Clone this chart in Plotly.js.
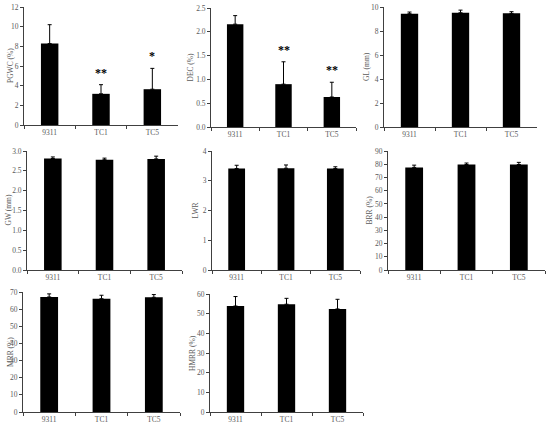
<!DOCTYPE html>
<html><head><meta charset="utf-8">
<script src="https://cdn.plot.ly/plotly-3.0.1.min.js"></script>
<style>html,body{margin:0;padding:0;background:#fff}#chart{width:550px;height:427px}</style>
</head><body><div id="chart"></div>
<script>
const categories = ["9311", "TC1", "TC5"];
const traitNames = ["PGWC (%)", "DEC (%)", "GL (mm)", "GW (mm)", "LWR", "BRR (%)", "MRR (%)", "HMRR (%)"];
const PGWC = [8.28, 3.17, 3.64];
const PGWC_err = [1.92, 0.93, 2.12];
const DEC = [2.16, 0.90, 0.63];
const DEC_err = [0.18, 0.47, 0.31];
const GL = [9.44, 9.52, 9.47];
const GL_err = [0.14, 0.22, 0.14];
const GW = [2.81, 2.78, 2.80];
const GW_err = [0.04, 0.04, 0.07];
const LWR = [3.41, 3.42, 3.41];
const LWR_err = [0.11, 0.11, 0.06];
const BRR = [77.6, 79.8, 79.8];
const BRR_err = [1.7, 1.1, 1.6];
const MRR = [67.1, 66.1, 66.9];
const MRR_err = [1.8, 2.0, 1.6];
const HMRR = [53.9, 54.8, 52.4];
const HMRR_err = [4.8, 3.0, 4.9];
const sigPGWC = ["", "**", "*"];
const sigDEC = ["", "**", "**"];

const values = [PGWC, DEC, GL, GW, LWR, BRR, MRR, HMRR];
const errors = [PGWC_err, DEC_err, GL_err, GW_err, LWR_err, BRR_err, MRR_err, HMRR_err];
const sigs = [sigPGWC, sigDEC, null, null, null, null, null, null];
const yRanges = [[0,12],[0,2.5],[0,10],[0,3],[0,4],[0,90],[0,70],[0,60]];
const yDticks = [2,0.5,2,0.5,1,10,10,10];
const yFormats = ["d",".1f","d",".1f","d","d","d","d"];

// layout: panel pixel boxes [x0,x1,y0,y1] (top-based) and y-title offsets
const W = 550, H = 427;
const boxes = [
  [24,178,7,125],[211,356,8,127],[384,537,7,127],
  [27,182,151,270],[212,360,151,270],[388,545,151,270],
  [23,180,292,412],[210,363,294,412]
];
const titleOffsets = [13,21,17,19,17,19,13,18];

const font = "Liberation Serif";
const txtColor = "#595959";
const lineColor = "#404040";
const data = [];
const layout = {
  width: W, height: H, margin: {l:0,r:0,t:0,b:0},
  paper_bgcolor: "#fff", plot_bgcolor: "#fff",
  showlegend: false, bargap: 0.66,
  font: {family: font, size: 7, color: txtColor},
  annotations: []
};
for (let i = 0; i < 8; i++) {
  const n = i === 0 ? "" : String(i+1);
  const b = boxes[i];
  data.push({
    type: "bar", x: categories, y: values[i],
    xaxis: "x" + n, yaxis: "y" + n,
    marker: {color: "#000", line: {width: 0}},
    error_y: {type: "data", symmetric: false, array: errors[i], arrayminus: [0,0,0],
              color: "#000", thickness: 1, width: 2}
  });
  layout["xaxis" + n] = {
    domain: [b[0]/W, b[1]/W], anchor: "y" + n,
    type: "category", showline: true, linecolor: lineColor, linewidth: 1,
    ticks: "outside", ticklen: 3, tickcolor: lineColor, tickson: "boundaries",
    showgrid: false, zeroline: false, fixedrange: true,
    tickfont: {family: font, size: 7.5, color: txtColor}
  };
  layout["yaxis" + n] = {
    domain: [1 - b[3]/H, 1 - b[2]/H], anchor: "x" + n,
    range: yRanges[i], dtick: yDticks[i], tick0: 0, tickformat: yFormats[i],
    showline: true, linecolor: lineColor, linewidth: 1,
    ticks: "outside", ticklen: 3, tickcolor: lineColor,
    showgrid: false, zeroline: false, fixedrange: true,
    tickfont: {family: font, size: 7.5, color: txtColor}
  };
  layout.annotations.push({
    xref: "paper", yref: "paper", x: (b[0] - titleOffsets[i]) / W,
    y: 1 - (b[2] + b[3]) / 2 / H, text: traitNames[i], textangle: -90,
    showarrow: false, xanchor: "center", yanchor: "middle",
    font: {family: font, size: 7.5, color: txtColor}
  });
  if (sigs[i]) {
    for (let j = 0; j < 3; j++) {
      if (!sigs[i][j]) continue;
      layout.annotations.push({
        xref: "x" + n, yref: "y" + n, x: categories[j], y: values[i][j] + errors[i][j],
        text: "<b>" + sigs[i][j] + "</b>", showarrow: false, yanchor: "bottom", yshift: 3,
        font: {family: "Liberation Serif", size: 12, color: "#000000"}
      });
    }
  }
}
Plotly.newPlot("chart", data, layout, {displayModeBar: false, staticPlot: true});
</script></body></html>
